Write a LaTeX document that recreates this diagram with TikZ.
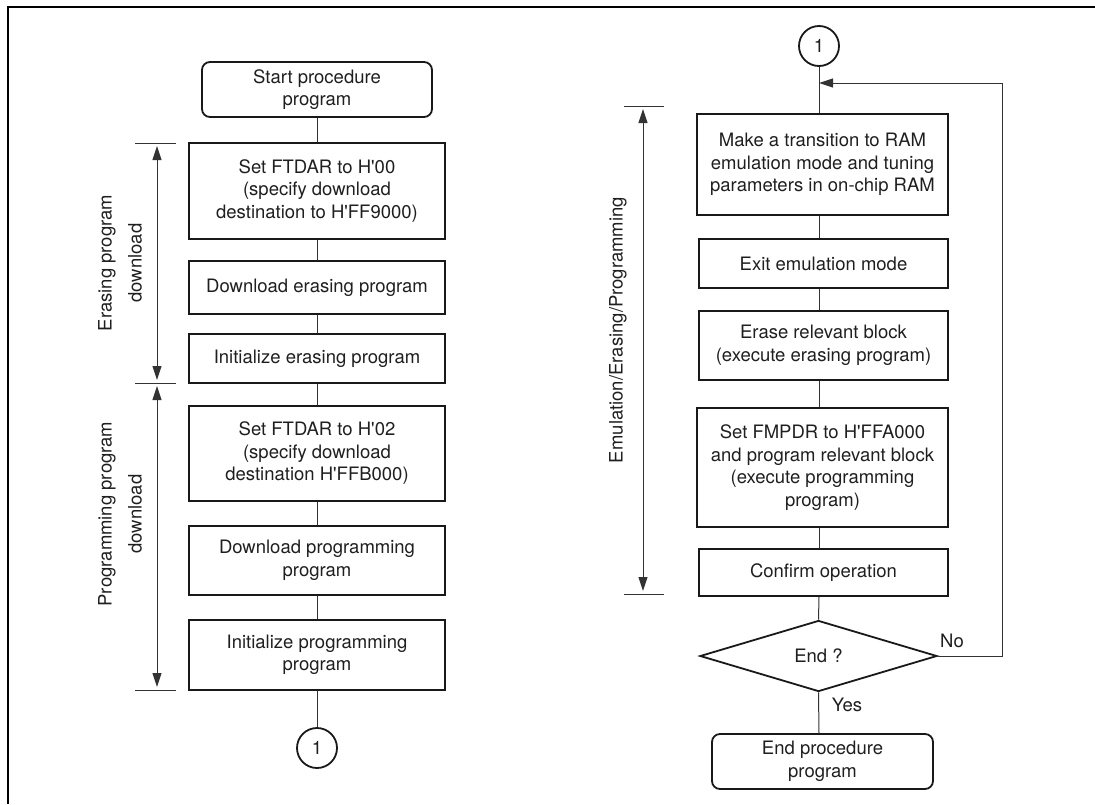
\documentclass[tikz,border=0pt]{standalone}
\usepackage{fontspec}
\setmainfont{TeX Gyre Heros}
\usetikzlibrary{shapes.geometric,arrows.meta,calc}
\newcommand\apos{\textquotesingle}
\begin{document}
\begin{tikzpicture}[x=1pt,y=-1pt,
  every node/.style={font=\fontsize{18.5}{22.5}\selectfont, text=black!88},
  box/.style={draw=black!90, line width=1.8pt, align=center, inner sep=0pt},
  term/.style={box, rounded corners=8pt},
  conn/.style={draw=black!80, line width=1pt},
  tip/.style={-{Triangle[length=14pt,width=9pt]}},
  dim/.style={draw=black!80, line width=1pt, {Triangle[length=14pt,width=9pt]}-{Triangle[length=14pt,width=9pt]}},
  tick/.style={draw=black!80, line width=1pt},
  side/.style={font=\fontsize{18.5}{30}\selectfont, rotate=90, align=center, inner sep=0pt},
  circ/.style={draw=black!90, line width=1.8pt, circle, minimum size=40pt, inner sep=0pt}]
\useasboundingbox (0,0) rectangle (1095,804);
% frame
\draw[line width=2pt] (1095,7) -- (8,7) -- (8,804);

% ---------- left column ----------
\node[term, minimum width=230, minimum height=55] (start) at (317,89.5) {Start procedure\\program};
\node[box, minimum width=256, minimum height=96] (b1) at (317,191) {Set FTDAR to H\apos00\\(specify download\\destination to H\apos FF9000)};
\node[box, minimum width=256, minimum height=53] (b2) at (317,287.5) {Download erasing program};
\node[box, minimum width=256, minimum height=49] (b3) at (317,358.5) {Initialize erasing program};
\node[box, minimum width=256, minimum height=95] (b4) at (317,453.5) {Set FTDAR to H\apos02\\(specify download\\destination H\apos FFB000)};
\node[box, minimum width=256, minimum height=69] (b5) at (317,560.5) {Download programming\\program};
\node[box, minimum width=256, minimum height=70] (b6) at (317,655) {Initialize programming\\program};
\node[circ] (c1) at (317,748) {1};
\draw[conn] (start) -- (b1);
\draw[conn] (b1) -- (b2);
\draw[conn] (b2) -- (b3);
\draw[conn] (b3) -- (b4);
\draw[conn] (b4) -- (b5);
\draw[conn] (b5) -- (b6);
\draw[conn] (b6) -- (c1);

% left brackets
\coordinate (lt1) at (157,143);
\coordinate (lt2) at (157,383);
\coordinate (lt3) at (157,690);
\foreach \t in {lt1,lt2,lt3} \draw[tick] ($(\t)+(-22,0)$) -- ($(\t)+(19,0)$);
\draw[dim] ($(lt1)+(0,3)$) -- ($(lt2)+(0,-3)$);
\draw[dim] ($(lt2)+(0,3)$) -- ($(lt3)+(0,-3)$);
\node[side] (l1) at (120,263) {Erasing program\\download};
\node[side] (l2) at (120,514) {Programming program\\download};

% ---------- right column ----------
\coordinate (ax) at (819,0);
\node[circ] (c2) at (819,46) {1};
\node[box, minimum width=251, minimum height=101] (r1) at (822.5,164.5) {Make a transition to RAM\\emulation mode and tuning\\parameters in on-chip RAM};
\node[box, minimum width=249, minimum height=49] (r2) at (823.5,263.5) {Exit emulation mode};
\node[box, minimum width=249, minimum height=69] (r3) at (823.5,345.5) {Erase relevant block\\(execute erasing program)};
\node[box, minimum width=251, minimum height=119] (r4) at (822.5,467.5) {Set FMPDR to H\apos FFA000\\and program relevant block\\(execute programming\\program)};
\node[box, minimum width=249, minimum height=47] (r5) at (823.5,572.5) {Confirm operation};
\node[diamond, draw=black!90, line width=1.8pt, minimum width=237, minimum height=71, inner sep=0pt] (dia) at (818.5,656) {End ?};
\node[term, minimum width=221, minimum height=55] (end) at (822.5,761.5) {End procedure\\program};

\draw[conn] (c2) -- (ax |- r1.north);
\draw[conn] (ax |- r1.south) -- (ax |- r2.north);
\draw[conn] (ax |- r2.south) -- (ax |- r3.north);
\draw[conn] (ax |- r3.south) -- (ax |- r4.north);
\draw[conn] (ax |- r4.south) -- (ax |- r5.north);
\draw[conn] (ax |- r5.south) -- (dia.north);
\draw[conn] (dia.south) -- (ax |- end.north);
\coordinate (lp) at (1002,83);
\draw[conn, tip] (dia.east) -| (lp) -- (ax |- lp);
\node (no) at (952,641) {No};
\node (yes) at (847,705) {Yes};

% right bracket
\coordinate (rt1) at (643,106);
\coordinate (rt2) at (643,594);
\foreach \t in {rt1,rt2} \draw[tick] ($(\t)+(-19,0)$) -- ($(\t)+(21,0)$);
\draw[dim] ($(rt1)+(0,3)$) -- ($(rt2)+(0,-3)$);
\node[side] (l3) at (618,330) {Emulation/Erasing/Programming};
\end{tikzpicture}
\end{document}
